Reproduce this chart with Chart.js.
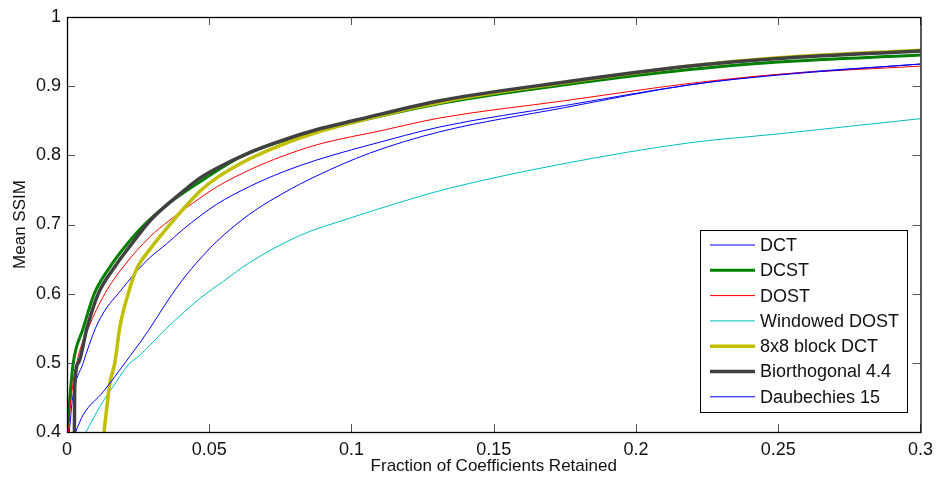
<!DOCTYPE html>
<html>
<head>
<meta charset="utf-8">
<script src="https://cdn.jsdelivr.net/npm/chart.js@4.4.1/dist/chart.umd.min.js"></script>
<style>
  html, body { margin: 0; padding: 0; background: #fff; }
  #wrap { width: 940px; height: 481px; }
</style>
</head>
<body>
<div id="wrap"><canvas id="ssimChart" width="940" height="481"></canvas></div>
<script>
// series (x = fraction retained, y = mean SSIM)
const dctX = [0.0008, 0.002, 0.0057, 0.01, 0.014, 0.018, 0.0244, 0.0291, 0.035, 0.0408, 0.0467, 0.0525, 0.0642, 0.0759, 0.0876, 0.1, 0.1063, 0.131, 0.175, 0.219, 0.25, 0.3];
const dctY = [0.4, 0.45, 0.5, 0.55, 0.58, 0.6, 0.632, 0.652, 0.672, 0.693, 0.712, 0.729, 0.755, 0.776, 0.793, 0.808, 0.815, 0.841, 0.872, 0.902, 0.917, 0.932];

const dcstX = [0, 0.001, 0.0022, 0.0057, 0.0096, 0.015, 0.02, 0.0268, 0.035, 0.045, 0.062, 0.08, 0.1, 0.134, 0.175, 0.219, 0.25, 0.3];
const dcstY = [0.4, 0.45, 0.5, 0.55, 0.6, 0.638, 0.666, 0.698, 0.728, 0.757, 0.8, 0.826, 0.847, 0.877, 0.902, 0.924, 0.935, 0.945];

const dostX = [0.0005, 0.0015, 0.0034, 0.0075, 0.0133, 0.02, 0.0291, 0.036, 0.0467, 0.0525, 0.0642, 0.0759, 0.0876, 0.1, 0.1063, 0.131, 0.175, 0.219, 0.25, 0.3];
const dostY = [0.4, 0.45, 0.5, 0.55, 0.6, 0.64, 0.682, 0.706, 0.738, 0.754, 0.779, 0.799, 0.815, 0.827, 0.832, 0.854, 0.879, 0.904, 0.917, 0.929];

const wdostX = [0.0067, 0.0116, 0.0174, 0.0215, 0.0256, 0.035, 0.0467, 0.055, 0.0642, 0.0818, 0.0993, 0.117, 0.134, 0.1747, 0.2186, 0.25, 0.3];
const wdostY = [0.4, 0.437, 0.473, 0.497, 0.511, 0.55, 0.593, 0.618, 0.645, 0.684, 0.709, 0.732, 0.752, 0.788, 0.818, 0.831, 0.853];

const blockX = [0.013, 0.0151, 0.0168, 0.0186, 0.0215, 0.0244, 0.0291, 0.0374, 0.0408, 0.0467, 0.0525, 0.0642, 0.0759, 0.0876, 0.1017, 0.134, 0.175, 0.219, 0.25, 0.3];
const blockY = [0.4, 0.471, 0.5, 0.552, 0.6, 0.635, 0.664, 0.706, 0.722, 0.748, 0.767, 0.795, 0.816, 0.833, 0.849, 0.879, 0.905, 0.929, 0.941, 0.952];

const biorX = [0.0026, 0.0027, 0.004, 0.007, 0.011, 0.017, 0.022, 0.0291, 0.035, 0.0408, 0.0467, 0.0525, 0.0642, 0.0759, 0.0876, 0.1017, 0.131, 0.175, 0.219, 0.25, 0.3];
const biorY = [0.4, 0.464, 0.5, 0.55, 0.6, 0.64, 0.668, 0.705, 0.728, 0.748, 0.767, 0.781, 0.804, 0.822, 0.837, 0.851, 0.879, 0.906, 0.929, 0.94, 0.951];

const daubX = [0.003, 0.0057, 0.0127, 0.0204, 0.028, 0.0356, 0.0408, 0.0467, 0.0525, 0.0642, 0.0759, 0.0876, 0.1063, 0.131, 0.175, 0.219, 0.25, 0.3];
const daubY = [0.4, 0.425, 0.458, 0.5, 0.543, 0.591, 0.621, 0.65, 0.675, 0.715, 0.745, 0.77, 0.803, 0.834, 0.869, 0.902, 0.916, 0.932];

const seriesNames = ["DCT", "DCST", "DOST", "Windowed DOST", "8x8 block DCT", "Biorthogonal 4.4", "Daubechies 15"];

const xTickValues = [0, 0.05, 0.1, 0.15, 0.2, 0.25, 0.3];
const xTickLabels = ["0", "0.05", "0.1", "0.15", "0.2", "0.25", "0.3"];
const yTickValues = [0.4, 0.5, 0.6, 0.7, 0.8, 0.9, 1];
const yTickLabels = ["0.4", "0.5", "0.6", "0.7", "0.8", "0.9", "1"];

const FONT = "'Liberation Sans', Arial, Helvetica, sans-serif";

function zip(xs, ys) {
  return xs.map((x, i) => ({ x: x, y: ys[i] }));
}

const lineStyles = [
  { color: "#0000ff", width: 1 },
  { color: "#008000", width: 3 },
  { color: "#ff0000", width: 1 },
  { color: "#00bfbf", width: 1 },
  { color: "#bfbf00", width: 3.5 },
  { color: "#404040", width: 3.5 },
  { color: "#0000ff", width: 1 }
];

const allData = [
  zip(dctX, dctY), zip(dcstX, dcstY), zip(dostX, dostY), zip(wdostX, wdostY),
  zip(blockX, blockY), zip(biorX, biorY), zip(daubX, daubY)
];

const datasets = allData.map((pts, i) => ({
  label: seriesNames[i],
  data: pts,
  showLine: true,
  borderColor: lineStyles[i].color,
  backgroundColor: lineStyles[i].color,
  borderWidth: lineStyles[i].width,
  pointRadius: 0,
  cubicInterpolationMode: "monotone",
  fill: false,
  order: allData.length - i // later series drawn on top, like matlab
}));

// inward tick marks + black box
const frameTicks = {
  id: "frameTicks",
  afterDatasetsDraw(chart) {
    const { ctx, chartArea: a, scales } = chart;
    ctx.save();
    ctx.strokeStyle = "#555";
    ctx.lineWidth = 1;
    ctx.beginPath();
    xTickValues.forEach((v) => {
      const px = Math.round(scales.x.getPixelForValue(v)) + 0.5;
      ctx.moveTo(px, a.bottom); ctx.lineTo(px, a.bottom - 8);
      ctx.moveTo(px, a.top); ctx.lineTo(px, a.top + 8);
    });
    yTickValues.forEach((v) => {
      const py = Math.round(scales.y.getPixelForValue(v)) + 0.5;
      ctx.moveTo(a.left, py); ctx.lineTo(a.left + 8, py);
      ctx.moveTo(a.right, py); ctx.lineTo(a.right - 8, py);
    });
    ctx.stroke();
    ctx.strokeStyle = "#000";
    ctx.lineWidth = 1.3;
    ctx.strokeRect(a.left + 0.5, a.top + 0.5, a.right - a.left, a.bottom - a.top);
    ctx.restore();
  }
};

// legend box in the lower right of the axes
const boxLegend = {
  id: "boxLegend",
  afterDraw(chart) {
    const { ctx } = chart;
    const left = 700, top = 230, w = 207, h = 182, rowH = 25.3;
    ctx.save();
    ctx.fillStyle = "#fff";
    ctx.fillRect(left, top, w, h);
    ctx.strokeStyle = "#000";
    ctx.lineWidth = 1;
    ctx.strokeRect(left + 0.5, top + 0.5, w, h);
    ctx.font = "18px " + FONT;
    ctx.textBaseline = "middle";
    ctx.textAlign = "left";
    chart.data.datasets.forEach((ds, i) => {
      const cy = top + 15 + rowH * i;
      ctx.strokeStyle = ds.borderColor;
      ctx.lineWidth = ds.borderWidth;
      ctx.beginPath();
      ctx.moveTo(710, cy);
      ctx.lineTo(755, cy);
      ctx.stroke();
      ctx.fillStyle = "#111";
      ctx.fillText(ds.label, 760, cy + 1);
    });
    ctx.restore();
  }
};

const ctx = document.getElementById("ssimChart").getContext("2d");

new Chart(ctx, {
  type: "scatter",
  data: { datasets: datasets },
  plugins: [frameTicks, boxLegend],
  options: {
    responsive: false,
    animation: false,
    devicePixelRatio: 1,
    layout: { padding: { top: 17, right: 18, left: 0, bottom: 0 } },
    plugins: {
      legend: { display: false },
      tooltip: { enabled: false }
    },
    scales: {
      x: {
        type: "linear",
        min: 0,
        max: 0.3,
        afterBuildTicks: (scale) => {
          scale.ticks = xTickValues.map((v) => ({ value: v }));
        },
        afterFit: (scale) => { scale.height = 49; },
        grid: { display: false, drawTicks: false },
        border: { display: false },
        ticks: {
          padding: 7,
          maxRotation: 0,
          color: "#111",
          font: { family: FONT, size: 18 },
          callback: (value, index) => xTickLabels[index]
        },
        title: {
          display: true,
          text: "Fraction of Coefficients Retained",
          color: "#111",
          font: { family: FONT, size: 17 },
          padding: { top: 0, bottom: 4 }
        }
      },
      y: {
        type: "linear",
        min: 0.4,
        max: 1,
        afterBuildTicks: (scale) => {
          scale.ticks = yTickValues.map((v) => ({ value: v }));
        },
        afterFit: (scale) => { scale.width = 67; },
        grid: { display: false, drawTicks: false },
        border: { display: false },
        ticks: {
          padding: 6,
          color: "#111",
          font: { family: FONT, size: 18 },
          callback: (value, index) => yTickLabels[index]
        },
        title: {
          display: true,
          text: "Mean SSIM",
          color: "#111",
          font: { family: FONT, size: 17 },
          padding: { top: 10, bottom: 0 }
        }
      }
    }
  }
});
</script>
</body>
</html>
